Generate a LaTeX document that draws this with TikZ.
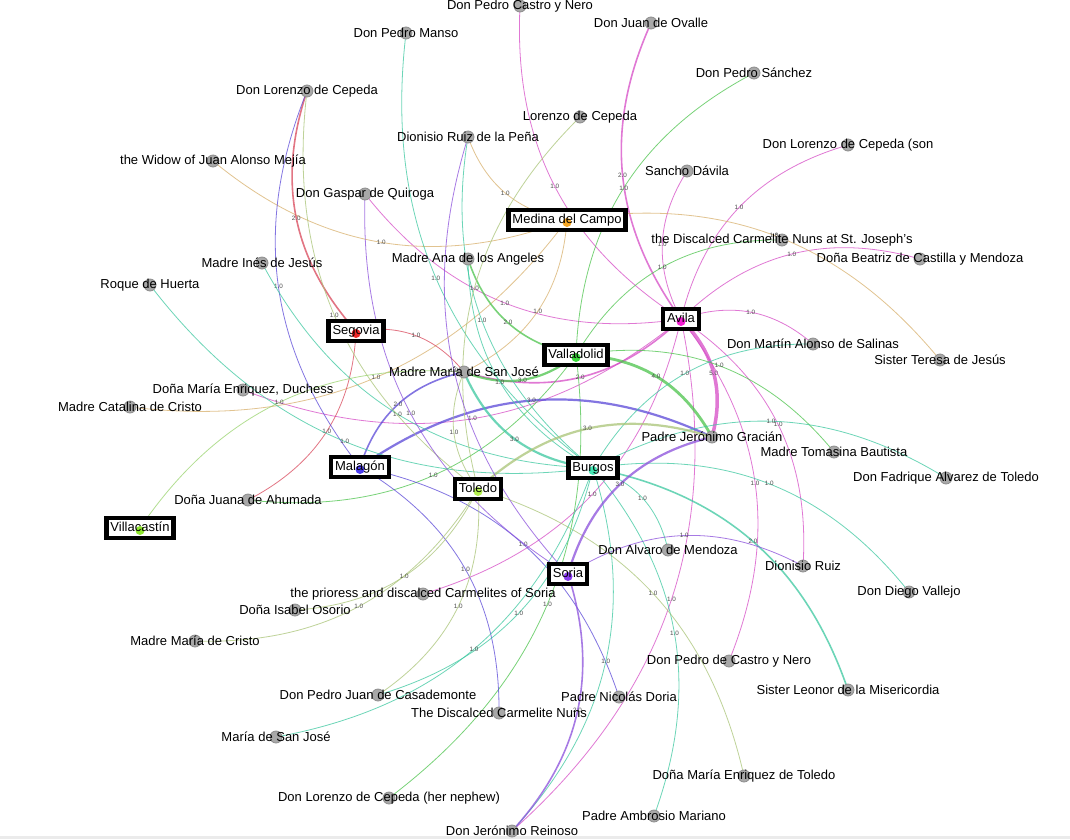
\documentclass[tikz,border=0pt]{standalone}
\usepackage{fontspec}
\setmainfont{Liberation Sans}
\pgfdeclarelayer{bg}
\pgfdeclarelayer{edges}
\pgfdeclarelayer{labels}
\pgfsetlayers{bg,edges,main,labels}
\definecolor{avE}{HTML}{D64CC6}\definecolor{avN}{HTML}{F21ED2}
\definecolor{medE}{HTML}{D8B06C}\definecolor{medN}{HTML}{F5A623}
\definecolor{segE}{HTML}{D9475A}\definecolor{segN}{HTML}{F02828}
\definecolor{valE}{HTML}{4CC44C}\definecolor{valN}{HTML}{3DDC3D}
\definecolor{malE}{HTML}{5A48D8}\definecolor{malN}{HTML}{4B3DF0}
\definecolor{burE}{HTML}{3CC8A0}\definecolor{burN}{HTML}{45E6B4}
\definecolor{tolE}{HTML}{A9C476}\definecolor{tolN}{HTML}{B4F050}
\definecolor{vilE}{HTML}{9AD46E}\definecolor{vilN}{HTML}{8EE62E}
\definecolor{sorE}{HTML}{8A4EDC}\definecolor{sorN}{HTML}{8A3CF0}
\definecolor{pfill}{HTML}{A8A8A8}\definecolor{pdraw}{HTML}{8C8C8C}
\tikzset{
  pdot/.style={circle, fill=pfill, draw=pdraw, line width=0.8pt, minimum size=12pt, inner sep=0pt},
  ptxt/.style={inner sep=0pt, font=\fontsize{13}{15}\selectfont, text=black},
  placebox/.style={rectangle, draw=black, line width=4.5pt, fill=white, inner xsep=4pt, inner ysep=0pt,
    minimum height=20pt, text height=9.5pt, text depth=2.5pt, font=\fontsize{13}{15}\selectfont,
    path picture={\fill[#1] ([yshift=-2.5pt]path picture bounding box.center) circle (4.5pt);}},
  elbl/.style={font=\fontsize{6.3}{7}\selectfont, text=black!70, inner sep=0pt},
  w1/.style={line width=0.8pt}, w2/.style={line width=1.6pt}, w3/.style={line width=2.2pt},
  w4/.style={line width=2.8pt}, w5/.style={line width=3.5pt},
  gedge/.style={draw opacity=0.75},
}
\newcommand\person[3]{\node[pdot] (#1) at (#2) {};
  \begin{pgfonlayer}{labels}\node[ptxt] (#1t) at (#2) {#3};\end{pgfonlayer}}
\newcommand\placenode[4]{\begin{pgfonlayer}{labels}\node[placebox=#4] (#1) at (#2) {#3};\end{pgfonlayer}}
\newcommand\ged[4]{\draw[gedge, draw=#1, w#4] (#2.center) to[bend left=30] node[elbl]{#4.0} (#3.center);}
\begin{document}
\begin{tikzpicture}[x=1pt,y=1pt]
\useasboundingbox (0,0) rectangle (1070,-839);
\begin{pgfonlayer}{bg}
\fill[white] (0,0) rectangle (1070,-839);
\fill[black!8] (0,-836) rectangle (1070,-839);
\end{pgfonlayer}
% persons
\person{castro}{520,-6}{Don Pedro Castro y Nero}
\person{ovalle}{651,-23}{Don Juan de Ovalle}
\person{manso}{406,-33}{Don Pedro Manso}
\person{sanchez}{754,-73}{Don Pedro Sánchez}
\person{lorenzoC}{580,-117}{Lorenzo de Cepeda}
\person{donlor}{307,-91}{Don Lorenzo de Cepeda}
\person{drdlp}{468,-137}{Dionisio Ruiz de la Peña}
\person{son}{848,-145}{Don Lorenzo de Cepeda (son}
\person{widow}{213,-161}{the Widow of Juan Alonso Mejía}
\person{sancho}{687,-171}{Sancho Dávila}
\person{gaspar}{365,-194}{Don Gaspar de Quiroga}
\person{stjoseph}{782,-240}{the Discalced Carmelite Nuns at St. Joseph's}
\person{beatriz}{920,-259}{Doña Beatriz de Castilla y Mendoza}
\person{ines}{262,-263}{Madre Inés de Jesús}
\person{ana}{468,-259}{Madre Ana de los Angeles}
\person{roque}{150,-285}{Roque de Huerta}
\person{martin}{813,-344}{Don Martín Alonso de Salinas}
\person{teresa}{940,-360}{Sister Teresa de Jesús}
\person{mmsj}{464,-372}{Madre María de San José}
\person{duchess}{243,-390}{Doña María Enriquez, Duchess}
\person{catalina}{130,-407}{Madre Catalina de Cristo}
\person{pjg}{712,-437}{Padre Jerónimo Gracián}
\person{tomasina}{834,-452}{Madre Tomasina Bautista}
\person{fadrique}{946,-478}{Don Fadrique Alvarez de Toledo}
\person{juana}{248,-500}{Doña Juana de Ahumada}
\person{alvaro}{668,-550}{Don Alvaro de Mendoza}
\person{druiz}{803,-566}{Dionisio Ruiz}
\person{vallejo}{909,-592}{Don Diego Vallejo}
\person{prioress}{423,-594}{the prioress and discalced Carmelites of Soria}
\person{isabel}{295,-610}{Doña Isabel Osorio}
\person{mcristo}{195,-641}{Madre María de Cristo}
\person{pcastro}{729,-661}{Don Pedro de Castro y Nero}
\person{leonor}{848,-690}{Sister Leonor de la Misericordia}
\person{casa}{378,-695}{Don Pedro Juan de Casademonte}
\person{doria}{619,-697}{Padre Nicolás Doria}
\person{nuns}{499,-713}{The Discalced Carmelite Nuns}
\person{msj}{276,-737}{María de San José}
\person{enriquez}{744,-776}{Doña María Enriquez de Toledo}
\person{nephew}{389,-798}{Don Lorenzo de Cepeda (her nephew)}
\person{ambrosio}{654,-816}{Padre Ambrosio Mariano}
\person{reinoso}{512,-831}{Don Jerónimo Reinoso}
% places
\placenode{medina}{567,-220}{Medina del Campo}{medN}
\placenode{avila}{681,-319}{Avila}{avN}
\placenode{segovia}{356,-331}{Segovia}{segN}
\placenode{valladolid}{576,-355}{Valladolid}{valN}
\placenode{malagon}{360,-467}{Malagón}{malN}
\placenode{toledo}{478,-489}{Toledo}{tolN}
\placenode{burgos}{593,-468}{Burgos}{burN}
\placenode{soria}{568,-574}{Soria}{sorN}
\placenode{villa}{140,-528}{Villacastín}{vilN}
% edges
\begin{pgfonlayer}{edges}
\ged{avE}{avila}{castro}{1}
\ged{avE}{avila}{ovalle}{2}
\ged{avE}{avila}{sancho}{1}
\ged{avE}{avila}{son}{1}
\ged{avE}{avila}{beatriz}{1}
\ged{avE}{avila}{martin}{1}
\ged{avE}{avila}{pjg}{5}
\ged{avE}{avila}{mmsj}{2}
\ged{avE}{avila}{gaspar}{1}
\ged{avE}{avila}{druiz}{1}
\ged{avE}{avila}{pcastro}{1}
\ged{avE}{avila}{duchess}{1}
\ged{avE}{avila}{prioress}{1}
\ged{avE}{avila}{reinoso}{1}
\ged{medE}{medina}{widow}{1}
\ged{medE}{medina}{drdlp}{1}
\ged{medE}{medina}{teresa}{1}
\ged{medE}{medina}{catalina}{1}
\ged{medE}{medina}{mmsj}{1}
\ged{segE}{segovia}{donlor}{2}
\ged{segE}{segovia}{mmsj}{1}
\ged{segE}{segovia}{juana}{1}
\ged{valE}{valladolid}{mmsj}{3}
\ged{valE}{valladolid}{pjg}{4}
\ged{valE}{valladolid}{ana}{2}
\ged{valE}{valladolid}{sanchez}{1}
\ged{valE}{valladolid}{stjoseph}{1}
\ged{valE}{valladolid}{tomasina}{1}
\ged{valE}{valladolid}{juana}{1}
\ged{valE}{valladolid}{nephew}{1}
\ged{malE}{malagon}{pjg}{3}
\ged{malE}{malagon}{mmsj}{2}
\ged{malE}{malagon}{donlor}{1}
\ged{malE}{malagon}{doria}{1}
\ged{malE}{malagon}{nuns}{1}
\ged{burE}{burgos}{mmsj}{3}
\ged{burE}{burgos}{leonor}{2}
\ged{burE}{burgos}{ines}{1}
\ged{burE}{burgos}{roque}{1}
\ged{burE}{burgos}{manso}{1}
\ged{burE}{burgos}{fadrique}{1}
\ged{burE}{burgos}{vallejo}{1}
\ged{burE}{burgos}{martin}{1}
\ged{burE}{burgos}{ambrosio}{1}
\ged{burE}{burgos}{reinoso}{1}
\ged{burE}{burgos}{casa}{1}
\ged{burE}{burgos}{msj}{1}
\ged{burE}{burgos}{alvaro}{1}
\ged{burE}{burgos}{drdlp}{1}
\ged{burE}{burgos}{ana}{1}
\ged{tolE}{toledo}{pjg}{3}
\ged{tolE}{toledo}{donlor}{1}
\ged{tolE}{toledo}{lorenzoC}{1}
\ged{tolE}{toledo}{mcristo}{1}
\ged{tolE}{toledo}{isabel}{1}
\ged{tolE}{toledo}{casa}{1}
\ged{tolE}{toledo}{enriquez}{1}
\ged{tolE}{toledo}{mmsj}{1}
\ged{vilE}{villa}{mmsj}{1}
\ged{sorE}{soria}{pjg}{3}
\ged{sorE}{soria}{reinoso}{2}
\ged{sorE}{soria}{druiz}{1}
\ged{sorE}{soria}{gaspar}{1}
\ged{sorE}{soria}{drdlp}{1}
\end{pgfonlayer}
\end{tikzpicture}
\end{document}
